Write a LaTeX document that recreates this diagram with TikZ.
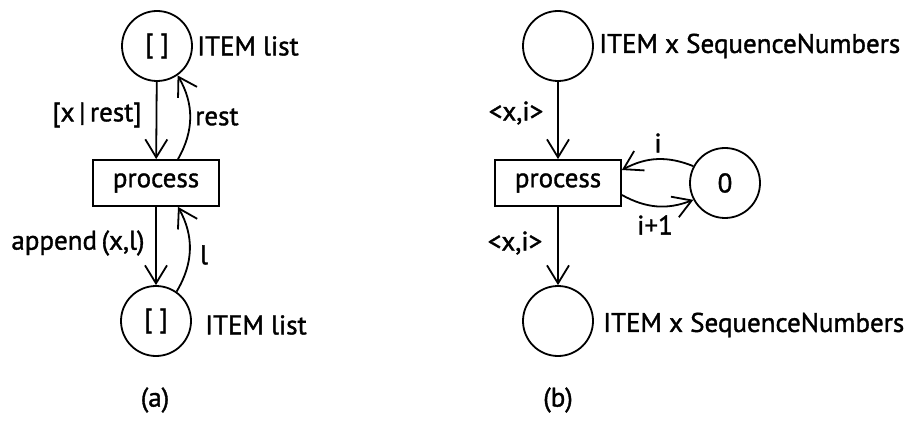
\documentclass[tikz,border=0pt]{standalone}
\usepackage{fontspec}
\setmainfont[FakeBold=1.3]{PT Sans}
\usetikzlibrary{arrows.meta}
\tikzset{
  place/.style={draw,circle,minimum size=70pt,inner sep=0pt,line width=1.8pt},
  trans/.style={draw,rectangle,minimum width=126pt,minimum height=46pt,inner sep=0pt,line width=1.8pt},
  arc/.style={line width=1.8pt,-{Straight Barb[length=18pt,width=22pt,line width=1.8pt]}},
  lbl/.style={inner sep=0pt}
}
\begin{document}
\begin{tikzpicture}[x=1pt,y=-1pt,font=\fontsize{27}{30}\selectfont]
    \useasboundingbox (0,0) rectangle (904,446);
    % (a)
    \node[place] (lst1) at (157,46) {[ ]};
    \node[trans] (proc1) at (156,183) {process};
    \node[place] (lst2) at (156,321) {[ ]};
    \node[lbl,anchor=west] (type1) at (197,46) {ITEM list};
    \node[lbl,anchor=west] (type2) at (205,325) {ITEM list};
    \node[lbl] (in1) at (97,115) {[x\,|\,rest]};
    \node[lbl,anchor=west] (back1) at (195,117) {rest};
    \node[lbl] (out1) at (78,243) {append\,(x,l)};
    \node[lbl] (back2) at (204,255) {l};
    \draw[arc] (lst1) -- (proc1);
    \draw[arc] (proc1.north -| 178,0) to[bend right=30] (lst1.-55);
    \draw[arc] (proc1) -- (lst2);
    \draw[arc] (lst2.55) to[bend right=30] (proc1.south -| 178,0);
    \node (capa) at (155,400) {(a)};
    % (b)
    \node[place] (seq1) at (558,46) {};
    \node[trans] (proc2) at (558,183) {process};
    \node[place] (seq2) at (558,321) {};
    \node[place] (cnt) at (725,183) {0};
    \node[lbl,anchor=west] (type3) at (599,46) {ITEM x SequenceNumbers};
    \node[lbl,anchor=west] (type4) at (603,325) {ITEM x SequenceNumbers};
    \node[lbl] (in2) at (516,113) {<x,i>};
    \node[lbl] (out2) at (515,243) {<x,i>};
    \node[lbl] (get) at (658,143) {i};
    \node[lbl] (put) at (655,225) {i+1};
    \draw[arc] (seq1) -- (proc2);
    \draw[arc] (proc2) -- (seq2);
    \draw[arc] (cnt.152) to[bend right=25] (proc2.east |- 0,170);
    \draw[arc] (proc2.east |- 0,195) to[bend right=25] (cnt.208);
    \node (capb) at (558,400) {(b)};
\end{tikzpicture}
\end{document}
